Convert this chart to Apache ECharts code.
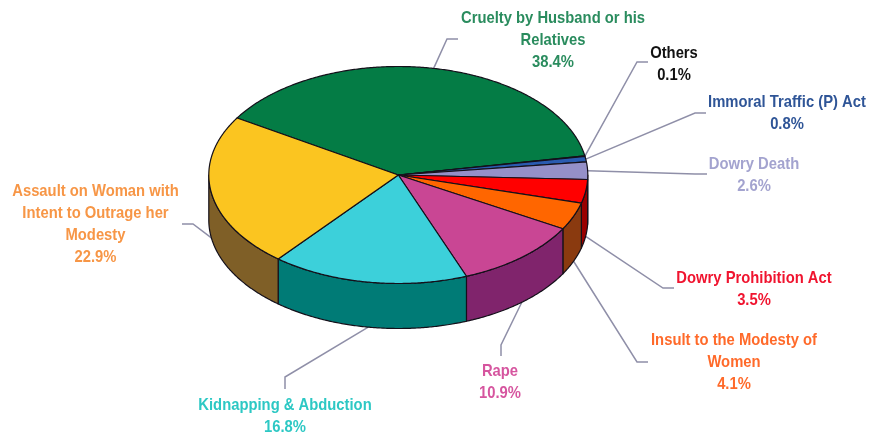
<!DOCTYPE html>
<html>
<head>
<meta charset="utf-8">
<title>Crimes against women</title>
<style>
    html, body { margin: 0; padding: 0; background: #fff; }
    #chart { width: 872px; height: 440px; }
</style>
<script src="https://cdn.jsdelivr.net/npm/echarts@6/dist/echarts.min.js"></script>
</head>
<body>
<div id="chart"></div>
<script>
// slices, clockwise from the green one
const categories = [
    'Cruelty by Husband or his\nRelatives',
    'Others',
    'Immoral Traffic (P) Act',
    'Dowry Death',
    'Dowry Prohibition Act',
    'Insult to the Modesty of\nWomen',
    'Rape',
    'Kidnapping & Abduction',
    'Assault on Woman with\nIntent to Outrage her\nModesty'
];
const values = [38.4, 0.1, 0.8, 2.6, 3.5, 4.1, 10.9, 16.8, 22.9];

const faceColors = ['#047c45', '#1a1a2a', '#2a5bb0', '#9590c8', '#ff0000', '#ff6600', '#c94694', '#3cd0da', '#fbc520'];
const wallColors = ['#024a29', '#0d0d15', '#152d58', '#5a5680', '#990000', '#8a3a0f', '#80246c', '#007b76', '#7f5f27'];
const textColors = ['#2a8c5e', '#111111', '#2f5597', '#a3a3cf', '#f0142f', '#ff6a2a', '#d6559f', '#2dc8c4', '#f79646'];

// label centre x / first line centre y
const labelX = [553, 674, 787, 754, 754, 734, 500, 285, 95.5];
const labelY = [18, 53, 102, 164, 278, 340, 371, 405, 191];
// leader lines: elbow point, then where the short straight piece ends
const elbowX = [447, 637, 695, 695, 663, 637, 501, 285, 193];
const elbowY = [39, 62, 113, 174, 288, 362, 345, 377, 224];
const leaderEndX = [458, 648, 706, 707, 674, 648, 501, 285, 182];
const leaderEndY = [39, 62, 113, 174, 288, 362, 356, 389, 224];

// pie geometry in pixels
const cx = 398.3, cy = 175, rx = 189.5, ry = 108.5, depth = 45;
const startAngle = 148.3;
const total = values.reduce((a, b) => a + b, 0);

// angle range of a slice, in degrees, going clockwise
const sliceAngles = (i) => {
    let before = 0;
    for (let k = 0; k < i; k++) before += values[k];
    const from = startAngle - before / total * 360;
    return [from, from - values[i] / total * 360];
};

const rimPoint = (deg, drop) => {
    const a = deg * Math.PI / 180;
    return [cx + rx * Math.cos(a), cy - ry * Math.sin(a) + drop];
};

const arcPoints = (from, to, drop) => {
    const steps = Math.max(2, Math.ceil(Math.abs(from - to) / 0.5));
    const pts = [];
    for (let s = 0; s <= steps; s++) {
        pts.push(rimPoint(from + (to - from) * s / steps, drop));
    }
    return pts;
};

const edgeStyle = { stroke: '#14101a', lineWidth: 1.2, lineJoin: 'round' };

const renderLeader = (params) => {
    const i = params.dataIndex;
    const [from, to] = sliceAngles(i);
    const mid = (from + to) / 2;
    const start = rimPoint(mid, Math.sin(mid * Math.PI / 180) < 0 ? depth : 0);
    return {
        type: 'polyline',
        shape: { points: [start, [elbowX[i], elbowY[i]], [leaderEndX[i], leaderEndY[i]]] },
        style: { stroke: '#8f8fa8', lineWidth: 1.5, fill: null }
    };
};

// only the front half of the rim (-180..0 degrees) shows a wall
const renderWall = (params) => {
    const i = params.dataIndex;
    const [from, to] = sliceAngles(i);
    const a = Math.min(from, 0), b = Math.max(to, -180);
    if (a <= b) return null;
    const top = arcPoints(a, b, 0);
    const bottom = arcPoints(b, a, depth);
    return {
        type: 'polygon',
        shape: { points: top.concat(bottom) },
        style: Object.assign({ fill: wallColors[i] }, edgeStyle)
    };
};

const renderFace = (params) => {
    const i = params.dataIndex;
    const [from, to] = sliceAngles(i);
    return {
        type: 'polygon',
        shape: { points: [[cx, cy]].concat(arcPoints(from, to, 0)) },
        style: Object.assign({ fill: faceColors[i] }, edgeStyle)
    };
};

// reference text is tall and narrow, so a bigger font is squeezed sideways
const renderLabel = (params) => {
    const i = params.dataIndex;
    return {
        type: 'text',
        x: labelX[i],
        y: labelY[i] - 11,
        scaleX: 0.87,
        style: {
            text: categories[i] + '\n' + values[i].toFixed(1) + '%',
            fill: textColors[i],
            font: 'bold 17px "Liberation Sans", Arial, sans-serif',
            lineHeight: 22,
            align: 'center',
            verticalAlign: 'top'
        }
    };
};

const seriesData = values.map((v, i) => [i, v]);
const customSeries = (renderItem, z) => ({
    type: 'custom',
    coordinateSystem: 'none',
    renderItem,
    data: seriesData,
    z,
    silent: true,
    animation: false
});

const myChart = echarts.init(document.getElementById('chart'), null, { renderer: 'canvas' });
myChart.setOption({
    backgroundColor: '#ffffff',
    animation: false,
    series: [
        customSeries(renderLeader, 1),
        customSeries(renderWall, 2),
        customSeries(renderFace, 3),
        customSeries(renderLabel, 4)
    ]
});
</script>
</body>
</html>
